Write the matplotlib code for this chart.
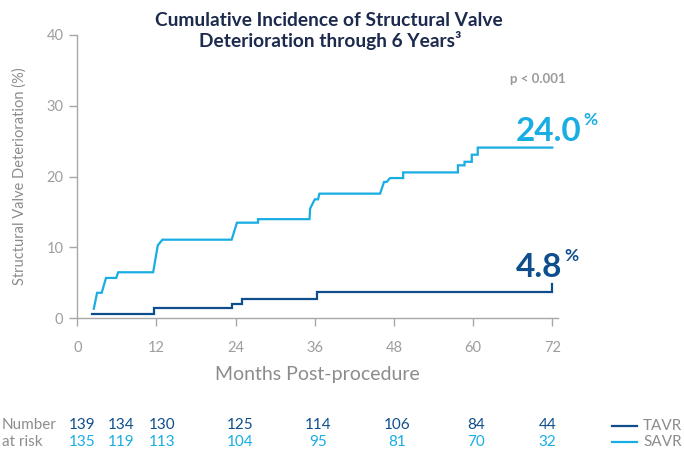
import matplotlib
matplotlib.use("Agg")
import matplotlib.pyplot as plt
from matplotlib.lines import Line2D

plt.rcParams['font.family'] = ['Lato', 'DejaVu Sans']

# curve vertices (month, %)
tavr_t = [2.3, 11.7, 11.7, 23.4, 23.4, 24.9, 24.9, 36.3, 36.3, 72.0, 72.0]
tavr_y = [0.6, 0.6, 1.5, 1.5, 2.06, 2.06, 2.7, 2.7, 3.76, 3.76, 4.8]

savr_t = [2.5, 3.0, 3.7, 4.35, 5.9, 6.2, 11.5, 12.2, 12.9, 23.4, 24.2, 27.4, 27.4,
          35.2, 35.3, 36.0, 36.5, 36.7, 45.9, 46.5, 46.9, 47.4, 49.4, 49.4,
          57.7, 57.7, 58.7, 58.7, 59.8, 59.8, 60.7, 60.7, 72.0]
savr_y = [1.35, 3.6, 3.6, 5.7, 5.7, 6.5, 6.5, 10.3, 11.1, 11.1, 13.5, 13.5, 14.0,
          14.0, 15.5, 16.8, 16.8, 17.6, 17.6, 19.25, 19.25, 19.8, 19.8, 20.6,
          20.6, 21.6, 21.6, 22.1, 22.1, 23.1, 23.1, 24.1, 24.1]

x_ticks = [0, 12, 24, 36, 48, 60, 72]
y_ticks = [0, 10, 20, 30, 40]

risk_tavr = [139, 134, 130, 125, 114, 106, 84, 44]
risk_savr = [135, 119, 113, 104, 95, 81, 70, 32]
risk_col_x = [0.7, 6.7, 12.8, 24.7, 36.5, 48.5, 60.4, 71.3]  # column centres (months)

TAVR_C = '#0f4e8c'
SAVR_C = '#18ade3'
NAVY = '#1c2a4d'
GREY = '#8c8c8c'
TICK_GREY = '#9e9e9e'

W, H = 684, 449
fig = plt.figure(figsize=(W / 100, H / 100), dpi=100)
ax = fig.add_axes([77.3 / W, 1 - 318.3 / H, (558.2 - 77.3) / W, (318.3 - 35) / H])

ax.plot(savr_t, savr_y, color=SAVR_C, lw=1.6, solid_joinstyle='miter')
ax.plot(tavr_t, tavr_y, color=TAVR_C, lw=1.6, solid_joinstyle='miter')

ax.set_xlim(0, 72.9)
ax.set_ylim(0, 40)
ax.set_xticks(x_ticks)
ax.set_yticks(y_ticks)
for s in ['top', 'right']:
    ax.spines[s].set_visible(False)
for s in ['left', 'bottom']:
    ax.spines[s].set_color('#a8a8a8')
    ax.spines[s].set_linewidth(1.0)
ax.tick_params(axis='both', colors='#a8a8a8', labelcolor=TICK_GREY, labelsize=10.5,
               length=6, width=1.0)
ax.tick_params(axis='x', pad=10)
ax.tick_params(axis='y', pad=4)
ax.set_xlabel('Months Post-procedure', fontsize=14, color=GREY, labelpad=8)
ax.set_ylabel('Structural Valve Deterioration (%)', fontsize=10.5, color=GREY, labelpad=14)

def fx(px):
    return px / W

def fy(py):
    return 1 - py / H

fig.text(fx(329), fy(20), 'Cumulative Incidence of Structural Valve', ha='center',
         va='center', fontsize=13.8, fontweight='bold', color=NAVY)
fig.text(fx(330), fy(41), 'Deterioration through 6 Years\u00b3', ha='center',
         va='center', fontsize=13.8, fontweight='bold', color=NAVY)

fig.text(fx(510), fy(79), 'p < 0.001', ha='left', va='center', fontsize=9.5,
         fontweight='bold', color='#9a9a9a')

fig.text(fx(516), fy(141), '24.0', ha='left', va='baseline', fontsize=24,
         fontweight='bold', color=SAVR_C)
fig.text(fx(583), fy(125), '%', ha='left', va='baseline', fontsize=12.5,
         fontweight='bold', color=SAVR_C)
fig.text(fx(516), fy(277), '4.8', ha='left', va='baseline', fontsize=24,
         fontweight='bold', color=TAVR_C)
fig.text(fx(564), fy(261), '%', ha='left', va='baseline', fontsize=12.5,
         fontweight='bold', color=TAVR_C)

# number at risk table
fig.text(fx(2), fy(425), 'Number', ha='left', va='center', fontsize=11, color=GREY)
fig.text(fx(2), fy(442), 'at risk', ha='left', va='center', fontsize=11, color=GREY)
for m, a, b in zip(risk_col_x, risk_tavr, risk_savr):
    xp = 77.3 + m * (552.3 - 77.3) / 72
    fig.text(fx(xp), fy(425), str(a), ha='center', va='center', fontsize=11, color=TAVR_C)
    fig.text(fx(xp), fy(442), str(b), ha='center', va='center', fontsize=11, color=SAVR_C)

for py, lab, c in [(426, 'TAVR', TAVR_C), (442, 'SAVR', SAVR_C)]:
    fig.add_artist(Line2D([fx(612), fx(637)], [fy(py), fy(py)], color=c, lw=1.6,
                          transform=fig.transFigure))
    fig.text(fx(643), fy(py), lab, ha='left', va='center', fontsize=11, color=GREY)

fig.savefig('out.png', dpi=100)
